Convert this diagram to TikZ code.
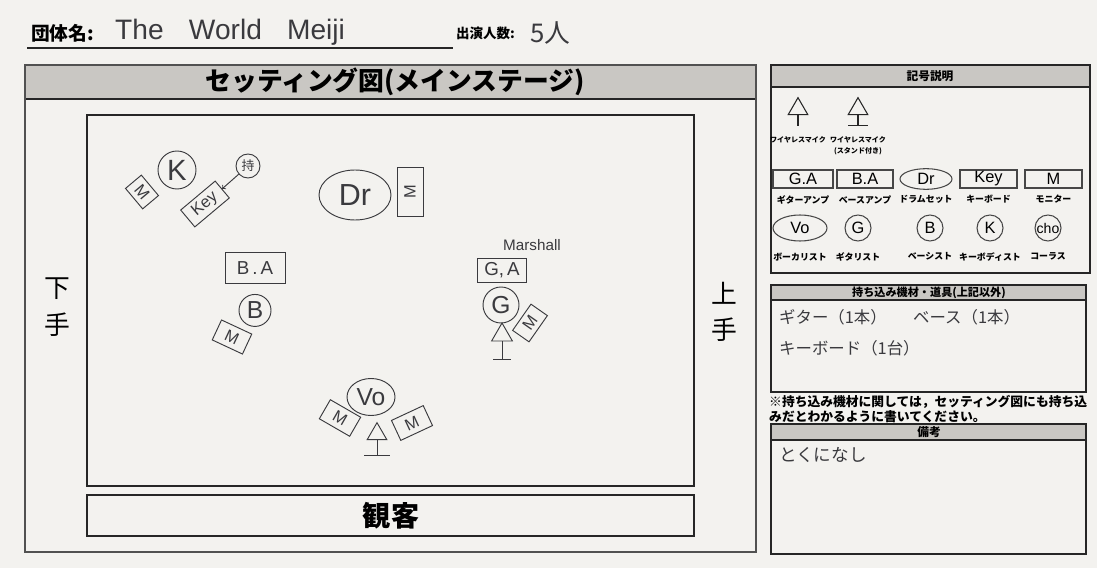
\documentclass[tikz,border=0pt]{standalone}
\usepackage{fontspec}
\setmainfont{Noto Sans CJK JP}
\setsansfont{Liberation Sans}
\usetikzlibrary{arrows,positioning,shapes.geometric}
\definecolor{paper}{RGB}{243,242,239}
\definecolor{bandgray}{RGB}{201,199,195}
\definecolor{ink}{RGB}{38,38,38}
\definecolor{pencil}{RGB}{58,58,62}
\tikzstyle{formline}=[
	draw=ink,
	line width=1.3pt
]
\tikzstyle{band}=[
	fill=bandgray,
	draw=ink,
	line width=1.3pt
]
\tikzstyle{legbox}=[
	rectangle,
	draw=ink!85,
	line width=0.9pt,
	minimum height=0.54cm,
	inner sep=0pt,
	font=\sffamily\fontsize{14}{14}\selectfont
]
\tikzstyle{legtext}=[
	inner sep=0pt,
	font=\bfseries\fontsize{7.6}{8}\selectfont
]
\tikzstyle{player}=[
	circle,
	draw=pencil,
	thick,
	inner sep=0pt,
	text=pencil,
	font=\sffamily\fontsize{21}{21}\selectfont
]
\tikzstyle{amp}=[
	rectangle,
	draw=pencil,
	thick,
	inner sep=0pt,
	text=pencil,
	font=\sffamily\fontsize{16}{16}\selectfont
]
\tikzstyle{monitor}=[
	rectangle,
	draw=pencil,
	thick,
	minimum width=1.0cm,
	minimum height=0.64cm,
	inner sep=0pt,
	text=pencil,
	font=\sffamily\fontsize{14}{14}\selectfont
]
\tikzstyle{mic}=[
	regular polygon,
	regular polygon sides=3,
	draw=pencil,
	thick,
	minimum size=0.68cm,
	inner sep=0pt
]
\tikzstyle{hand}=[
	inner sep=0pt,
	text=pencil
]

\begin{document}
\begin{tikzpicture}[x=0.03cm,y=-0.03cm]
\fill[paper] (0,0) rectangle (1097,568);
\useasboundingbox (0,0) rectangle (1097,568);

% group name line
\node[anchor=west, inner sep=0pt, font=\bfseries\fontsize{16}{16}\selectfont] (groupLabel) at (31,33) {団体名:};
\node[hand, anchor=west, font=\sffamily\fontsize{24}{24}\selectfont] (groupName) at (115,32) {The\hspace{0.9em}World\hspace{0.9em}Meiji};
\draw[line width=1.6pt, ink] (27,48) -- (453,48);
\node[anchor=west, inner sep=0pt, font=\bfseries\fontsize{11.5}{12}\selectfont] (castLabel) at (456,33) {出演人数:};
\node[hand, anchor=west, font=\fontsize{22}{22}\selectfont] (castNum) at (530,33) {5人};

% main stage frame
\draw[band] (25,65) rectangle (756,99);
\node[font=\bfseries\fontsize{22}{22}\selectfont] (stageTitle) at (395,82) {セッティング図(メインステージ)};
\draw[draw=ink!80, line width=1.8pt] (25,65) rectangle (756,552);
\draw[formline, line width=1.6pt] (87,115) rectangle (694,486);
\draw[formline] (87,495) rectangle (694,536);
\node[font=\bfseries\fontsize{24}{24}\selectfont] (audience) at (391,516) {観客};
\node[align=center, font=\fontsize{22}{31}\selectfont] (shimote) at (57,307) {下\\手};
\node[align=center, font=\fontsize{22}{31}\selectfont] (kamite) at (724,312) {上\\手};

% keyboard
\node[player, minimum size=1.14cm, font=\sffamily\fontsize{25}{25}\selectfont] (keyist) at (177,170) {K};
\node[monitor, rotate=-50, minimum width=0.8cm, minimum height=0.62cm] (keyMon) at (142,192) {M};
\node[amp, rotate=40, minimum width=1.35cm, minimum height=0.66cm, font=\sffamily\fontsize{14}{14}\selectfont] (keyboard) at (205,204) {Key};
\node[player, minimum size=0.72cm, font=\rmfamily\fontsize{11}{11}\selectfont] (ownKey) at (248,166) {持};
\draw[->, pencil, thick] (ownKey) -- (keyboard);

% drums
\node[player, ellipse, minimum width=2.16cm, minimum height=1.5cm, font=\sffamily\fontsize{26}{26}\selectfont] (drummer) at (355,195) {Dr};
\node[monitor, minimum width=0.78cm, minimum height=1.47cm] (drumMon) at (410,192) {\rotatebox{90}{M}};

% bass
\node[amp, minimum width=1.8cm, minimum height=0.93cm] (bassAmp) at (255,268) {B\,.\,A};
\node[player, minimum size=0.96cm, below=0.3cm of bassAmp] (bassist) {B};
\node[monitor, rotate=-25, minimum width=1.0cm, minimum height=0.66cm] (bassMon) at (232,337) {M};

% guitar
\node[hand, font=\sffamily\fontsize{13}{13}\selectfont] (marshall) at (532,245) {Marshall};
\node[amp, minimum width=1.47cm, minimum height=0.72cm] (gtrAmp) at (502,270) {G,\,A};
\node[player, minimum size=1.08cm] (guitarist) at (501,305) {G};
\node[monitor, rotate=55, minimum width=0.96cm, minimum height=0.6cm] (gtrMon) at (530,323) {M};
\node[mic, minimum size=0.72cm] (gtrMic) at (502,335) {};
\draw[pencil, thick] (gtrMic.south) -- ++(0,18) coordinate (gtrStand);
\draw[pencil, thick] (gtrStand) ++(-9,0) -- ++(18,0);

% vocal
\node[player, ellipse, minimum width=1.44cm, minimum height=1.11cm] (vocal) at (371,397) {Vo};
\node[monitor, rotate=-30, minimum width=1.05cm, minimum height=0.66cm] (voMonL) at (340,418) {M};
\node[monitor, rotate=25, minimum width=1.05cm, minimum height=0.66cm] (voMonR) at (412,423) {M};
\node[mic] (voMic) at (377,434) {};
\draw[pencil, thick] (voMic.south) -- ++(0,15) coordinate (voStand);
\draw[pencil, thick] (voStand) ++(-13,0) -- ++(26,0);

% legend
\draw[band] (771,65) rectangle (1090,87);
\draw[formline] (771,65) rectangle (1090,273);
\node[font=\bfseries\fontsize{10}{10}\selectfont] (legendTitle) at (930,76) {記号説明};
\node[mic, draw=ink, line width=0.9pt] (lgMic) at (798,109) {};
\draw[ink, line width=0.9pt] (lgMic.south) -- ++(0,11);
\node[mic, draw=ink, line width=0.9pt] (lgStandMic) at (858,109) {};
\draw[ink, line width=0.9pt] (lgStandMic.south) -- ++(0,10) coordinate (lgStand);
\draw[ink, line width=0.9pt] (lgStand) ++(-10,0) -- ++(20,0);
\node[legtext, font=\bfseries\fontsize{6}{6}\selectfont] (lgMicText) at (798,140) {ワイヤレスマイク};
\node[legtext, font=\bfseries\fontsize{6}{6}\selectfont] (lgStandText) at (858,140) {ワイヤレスマイク};
\node[legtext, font=\bfseries\fontsize{6}{6}\selectfont, below=0.12cm of lgStandText] (lgStandNote) {(スタンド付き)};

\node[legbox, minimum width=1.8cm] (lgGA) at (803,179) {G.A};
\node[legbox, minimum width=1.68cm] (lgBA) at (865,179) {B.A};
\node[legbox, ellipse, minimum width=1.56cm, minimum height=0.62cm] (lgDr) at (926,179) {Dr};
\node[legbox, minimum width=1.71cm] (lgKey) at (988.5,179) {Key};
\node[legbox, minimum width=1.71cm] (lgMon) at (1053.5,179) {M};
\node[legtext, below=0.2cm of lgGA] (lgGAText) {ギターアンプ};
\node[legtext, below=0.2cm of lgBA] (lgBAText) {ベースアンプ};
\node[legtext, below=0.15cm of lgDr] (lgDrText) {ドラムセット};
\node[legtext, below=0.2cm of lgKey] (lgKeyText) {キーボード};
\node[legtext, below=0.2cm of lgMon] (lgMonText) {モニター};

\node[legbox, ellipse, minimum width=1.62cm, minimum height=0.78cm] (lgVo) at (800,228) {Vo};
\node[legbox, circle, minimum size=0.78cm] (lgG) at (858,228) {G};
\node[legbox, circle, minimum size=0.78cm] (lgB) at (930,228) {B};
\node[legbox, circle, minimum size=0.78cm] (lgK) at (990,228) {K};
\node[legbox, circle, minimum size=0.78cm, font=\sffamily\fontsize{12}{12}\selectfont] (lgCho) at (1048,228) {cho};
\node[legtext, below=0.33cm of lgVo] (lgVoText) {ボーカリスト};
\node[legtext, below=0.33cm of lgG] (lgGText) {ギタリスト};
\node[legtext, below=0.33cm of lgB] (lgBText) {ベーシスト};
\node[legtext, below=0.33cm of lgK] (lgKText) {キーボディスト};
\node[legtext, below=0.33cm of lgCho] (lgChoText) {コーラス};

% brought equipment
\draw[band] (771,285) rectangle (1086,300);
\draw[formline] (771,285) rectangle (1086,392);
\node[font=\bfseries\fontsize{9.5}{10}\selectfont] (ownTitle) at (929,292.5) {持ち込み機材・道具(上記以外)};
\node[hand, anchor=west, font=\fontsize{14}{14}\selectfont] (ownGuitar) at (779,317) {ギター（1本）};
\node[hand, anchor=west, font=\fontsize{14}{14}\selectfont] (ownBass) at (913,317) {ベース（1本）};
\node[hand, anchor=west, font=\fontsize{14}{14}\selectfont] (ownKeys) at (779,348) {キーボード（1台）};
\node[anchor=north west, inner sep=0pt, align=left, font=\bfseries\fontsize{10.9}{12.5}\selectfont] (ownNote) at (769,395) {※持ち込み機材に関しては，セッティング図にも持ち込\\みだとわかるように書いてください。};

% remarks
\draw[band] (771,424) rectangle (1086,440);
\draw[formline] (771,424) rectangle (1086,554);
\node[font=\bfseries\fontsize{10}{10}\selectfont] (remarkTitle) at (929,432) {備考};
\node[hand, anchor=west, font=\fontsize{15}{15}\selectfont] (remarkText) at (779,455) {とくになし};
\end{tikzpicture}
\end{document}
